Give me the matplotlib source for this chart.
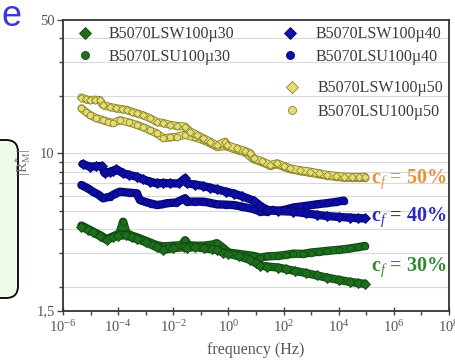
import numpy as np
import matplotlib
matplotlib.use("Agg")
import matplotlib.pyplot as plt
from matplotlib.lines import Line2D
from matplotlib.ticker import FixedLocator, FixedFormatter, NullFormatter
from matplotlib.patches import FancyBboxPatch
from matplotlib.transforms import IdentityTransform
import matplotlib.patheffects as pe

plt.rcParams['font.family'] = ['Liberation Serif', 'DejaVu Serif']
plt.rcParams['mathtext.fontset'] = 'custom'
plt.rcParams['mathtext.rm'] = 'Liberation Serif'
plt.rcParams['mathtext.it'] = 'Liberation Serif:italic'
plt.rcParams['mathtext.bf'] = 'Liberation Serif:bold'

# ---------------- data (log10 frequency, |R*_M|) ----------------
g30_w_logf = [-5.33, -5.1, -4.9, -4.65, -4.42, -4.2, -4.0, -3.7, -3.5, -3.3, -3.0, -2.6, -2.36, -2.0,
              -1.6, -1.5, -1.2, -0.9, -0.6, -0.42, -0.2, 0.0, 0.4, 0.8, 1.0, 1.16, 1.4, 1.8, 2.1, 2.4,
              2.8, 3.2, 3.58, 4.0, 4.4, 4.7, 4.95]
g30_w_val = [4.12, 3.98, 3.85, 3.68, 3.52, 3.62, 3.70, 3.72, 3.62, 3.55, 3.42, 3.22, 3.12, 3.18,
             3.22, 3.20, 3.22, 3.18, 3.14, 3.12, 3.02, 2.98, 2.88, 2.76, 2.66, 2.58, 2.55, 2.52, 2.47, 2.42,
             2.36, 2.29, 2.23, 2.17, 2.12, 2.09, 2.07]

g30_u_logf = [-5.33, -5.1, -4.9, -4.65, -4.42, -4.2, -3.95, -3.82, -3.7, -3.5, -3.3, -3.0, -2.6, -2.36,
              -2.0, -1.7, -1.57, -1.45, -1.2, -0.9, -0.6, -0.42, -0.2, 0.0, 0.3, 0.6, 0.9, 1.16, 1.4,
              1.8, 2.1, 2.36, 2.7, 3.0, 3.3, 3.58, 4.0, 4.4, 4.7, 4.95]
g30_u_val = [4.18, 4.02, 3.88, 3.72, 3.55, 3.66, 3.80, 4.38, 3.82, 3.70, 3.62, 3.48, 3.30, 3.25,
             3.28, 3.30, 3.50, 3.30, 3.28, 3.28, 3.32, 3.38, 3.20, 3.02, 2.98, 2.94, 2.90, 2.84, 2.88,
             2.90, 2.94, 2.98, 2.97, 3.02, 3.05, 3.08, 3.12, 3.17, 3.22, 3.27]

b40_w_logf = [-5.29, -5.03, -4.8, -4.6, -4.48, -4.3, -4.18, -4.06, -3.82, -3.6, -3.33, -3.1, -2.85, -2.6,
              -2.36, -2.12, -1.8, -1.57, -1.5, -1.2, -0.91, -0.67, -0.42, -0.1, 0.2, 0.5, 0.91, 1.16,
              1.4, 1.8, 2.36, 2.8, 3.2, 3.58, 4.0, 4.4, 4.7, 4.95]
b40_w_val = [8.79, 8.51, 8.55, 8.58, 7.86, 8.0, 8.11, 8.24, 7.86, 7.70, 7.54, 7.30, 7.10, 6.96,
             6.98, 6.96, 6.95, 7.40, 6.96, 6.85, 6.74, 6.60, 6.48, 6.30, 6.15, 5.95, 5.65, 5.30,
             5.05, 4.98, 4.94, 4.85, 4.76, 4.69, 4.64, 4.60, 4.57, 4.56]

b40_u_logf = [-5.33, -5.1, -4.91, -4.7, -4.55, -4.3, -4.1, -3.94, -3.6, -3.33, -3.21, -3.0, -2.8, -2.6,
              -2.4, -2.24, -1.9, -1.57, -1.51, -1.2, -0.91, -0.67, -0.42, -0.1, 0.2, 0.5, 0.91, 1.16,
              1.4, 1.6, 1.8, 2.1, 2.36, 2.8, 3.2, 3.58, 3.9, 4.18]
b40_u_val = [6.82, 6.55, 6.29, 6.05, 5.81, 5.92, 6.15, 6.29, 6.22, 6.17, 5.69, 5.55, 5.45, 5.36,
             5.40, 5.47, 5.52, 5.81, 5.58, 5.58, 5.58, 5.50, 5.40, 5.38, 5.35, 5.25, 5.10, 4.95,
             4.95, 5.05, 4.98, 5.08, 5.20, 5.30, 5.40, 5.48, 5.56, 5.65]

y50_w_logf = [-5.33, -5.18, -5.03, -4.85, -4.67, -4.55, -4.3, -4.06, -3.85, -3.69, -3.5, -3.33, -3.1,
              -2.85, -2.6, -2.36, -2.12, -1.85, -1.57, -1.39, -1.15, -0.91, -0.67, -0.42, -0.12, -0.06,
              0.3, 0.6, 0.79, 0.91, 1.2, 1.52, 1.76, 2.0, 2.24, 2.6, 2.97, 3.3, 3.58, 3.9, 4.18, 4.5,
              4.75, 4.95]
y50_w_val = [19.6, 19.2, 19.0, 19.1, 19.0, 17.9, 17.5, 17.2, 17.0, 16.9, 16.5, 16.2, 15.8,
             15.3, 14.6, 14.4, 14.1, 13.9, 13.8, 13.0, 12.5, 12.0, 11.5, 11.0, 11.5, 11.05,
             10.6, 10.3, 10.0, 9.42, 9.1, 8.68, 8.86, 8.6, 8.34, 8.15, 8.01, 7.85, 7.70, 7.62, 7.54, 7.52,
             7.52, 7.54]

y50_u_logf = [-5.33, -5.18, -5.03, -4.8, -4.55, -4.35, -4.18, -3.94, -3.6, -3.33, -3.1, -2.85, -2.6,
              -2.36, -2.12, -1.88, -1.57, -1.2, -0.91, -0.67, -0.42, -0.1, 0.3, 0.6, 0.91, 1.2, 1.52,
              1.76, 2.0, 2.24, 2.6, 2.97, 3.3, 3.58, 3.9, 4.18, 4.5, 4.75, 4.95]
y50_u_val = [17.2, 16.5, 15.9, 15.3, 14.9, 14.6, 14.4, 14.9, 14.5, 14.1, 13.7, 13.2, 12.7,
             12.0, 12.1, 12.2, 12.5, 12.1, 11.7, 11.3, 10.8, 10.9, 10.4, 10.1, 9.3, 9.0, 8.6,
             8.75, 8.5, 8.25, 8.05, 7.9, 7.75, 7.62, 7.52, 7.45, 7.42, 7.42, 7.45]

series_labels = ["B5070LSW100µ30", "B5070LSU100µ30", "B5070LSW100µ40",
                 "B5070LSU100µ40", "B5070LSW100µ50", "B5070LSU100µ50"]
xtick_exps = [-6, -4, -2, 0, 2, 4, 6, 8]
xminor_exps = [-5, -3, -1, 1, 3, 5, 7]
ytick_vals = [1.5, 10, 50]
ytick_labels = ["1,5", "10", "50"]
yminor_vals = [2, 3, 4, 5, 6, 7, 8, 9, 20, 30, 40]
annot_texts = [r"c$_{f}$ = 50%", r"c$_{f}$ = 40%", r"c$_{f}$ = 30%"]

# ---------------- styling ----------------
GREEN, GREEN_E = '#1f6e1f', '#0e4a0e'
BLUE, BLUE_E = '#0e0ea6', '#070770'
YEL, YEL_E = '#e4dd78', '#8a8628'
W, H = 456, 363

fig = plt.figure(figsize=(W / 100, H / 100), dpi=100)
ax_l, ax_r, ax_t, ax_b = 63, 449, 19.9, 310.5
ax = fig.add_axes([ax_l / W, 1 - ax_b / H, (ax_r - ax_l) / W, (ax_b - ax_t) / H])

def draw(logf, vals, fc, ec, marker, lw=4.6, ms=4.8, z=3):
    f = 10.0 ** np.asarray(logf)
    ax.plot(f, vals, '-', color=fc, lw=lw, solid_capstyle='round', solid_joinstyle='round',
            path_effects=[pe.Stroke(linewidth=lw + 1.4, foreground=ec), pe.Normal()], zorder=z)
    ax.plot(f, vals, ls='none', marker=marker, ms=ms, mfc=fc, mec=ec, mew=0.6, zorder=z + 0.1)

draw(y50_u_logf, y50_u_val, YEL, YEL_E, 'o', lw=4.4, ms=4.8)
draw(y50_w_logf, y50_w_val, YEL, YEL_E, 'D', lw=4.4, ms=4.4, z=3.5)
draw(b40_u_logf, b40_u_val, BLUE, BLUE_E, 'o')
draw(b40_w_logf, b40_w_val, BLUE, BLUE_E, 'D', z=3.5)
draw(g30_u_logf, g30_u_val, GREEN, GREEN_E, 'o')
draw(g30_w_logf, g30_w_val, GREEN, GREEN_E, 'D', z=3.5)

ax.set_xscale('log')
ax.set_yscale('log')
ax.set_xlim(1e-6, 1e8)
ax.set_ylim(1.5, 50)

ax.xaxis.set_major_locator(FixedLocator([10.0 ** k for k in xtick_exps]))
ax.xaxis.set_major_formatter(FixedFormatter([r"$10^{%d}$" % k for k in xtick_exps]))
ax.xaxis.set_minor_locator(FixedLocator([10.0 ** k for k in xminor_exps]))
ax.xaxis.set_minor_formatter(NullFormatter())
ax.yaxis.set_major_locator(FixedLocator(ytick_vals))
ax.yaxis.set_major_formatter(FixedFormatter(ytick_labels))
ax.yaxis.set_minor_locator(FixedLocator(yminor_vals))
ax.yaxis.set_minor_formatter(NullFormatter())

ax.yaxis.grid(True, which='both', color='#dadada', lw=0.8, zorder=0)
ax.set_axisbelow(True)
ax.tick_params(axis='both', which='both', colors='#444444', labelcolor='#555555',
               labelsize=10.5, width=1.0)
ax.tick_params(axis='x', which='major', direction='inout', length=6, pad=3)
ax.tick_params(axis='x', which='minor', direction='out', length=3)
ax.tick_params(axis='y', which='major', direction='out', length=4, pad=2)
ax.tick_params(axis='y', which='minor', direction='out', length=3)
for s in ax.spines.values():
    s.set_color('#333333')
    s.set_linewidth(1.3)

ax.set_xlabel("frequency (Hz)", fontsize=11.5, color='#555555', labelpad=5)
ax.set_ylabel(r"$|\mathrm{R}^{*}_{\mathrm{M}}|$", fontsize=11, color='#777777')
ax.yaxis.set_label_coords((33 - ax_l) / (ax_r - ax_l), (ax_b - 162) / (ax_b - ax_t))

# legends
def proxy(marker, fc, ec, ms):
    return Line2D([], [], ls='none', marker=marker, ms=ms, mfc=fc, mec=ec, mew=0.6)

leg_kw = dict(frameon=False, fontsize=11.5, handlelength=1.0, borderpad=0, borderaxespad=0,
              labelcolor='#3a3a3a', loc='upper left')
l1 = ax.legend([proxy('D', GREEN, GREEN_E, 5.8), proxy('o', GREEN, GREEN_E, 5.8)],
               series_labels[0:2], bbox_to_anchor=(0.037, 0.978), handletextpad=0.95,
               labelspacing=0.42, **leg_kw)
ax.add_artist(l1)
l2 = ax.legend([proxy('D', BLUE, BLUE_E, 5.8), proxy('o', BLUE, BLUE_E, 5.8)],
               series_labels[2:4], bbox_to_anchor=(0.568, 0.978), handletextpad=1.08,
               labelspacing=0.42, **leg_kw)
ax.add_artist(l2)
l3 = ax.legend([proxy('D', YEL, YEL_E, 5.8), proxy('o', YEL, YEL_E, 5.8)],
               series_labels[4:6], bbox_to_anchor=(0.5736, 0.792), handletextpad=1.08,
               labelspacing=0.45, **leg_kw)

# annotations
annot_colors = ['#e8913a', '#2a2acb', '#2f8a2f']
annot_y = [179, 217, 267]
for t, c, yy in zip(annot_texts, annot_colors, annot_y):
    fig.text(371 / W, 1 - yy / H, t, color=c, fontsize=14.5, fontweight='bold',
             ha='left', va='center')

# slide remnants at left edge
box = FancyBboxPatch((-60, H - 298), 78, 158, boxstyle="round,pad=0,rounding_size=12",
                     transform=IdentityTransform(), facecolor='#eefbe6', edgecolor='black',
                     linewidth=1.3, zorder=-1)
fig.patches.append(box)
fig.text(12 / W, 1 - 16 / H, "e", color='#3a3ad2', fontsize=26, ha='center', va='center',
         family=['Liberation Sans', 'DejaVu Sans'])

fig.savefig("out.png", dpi=100)
